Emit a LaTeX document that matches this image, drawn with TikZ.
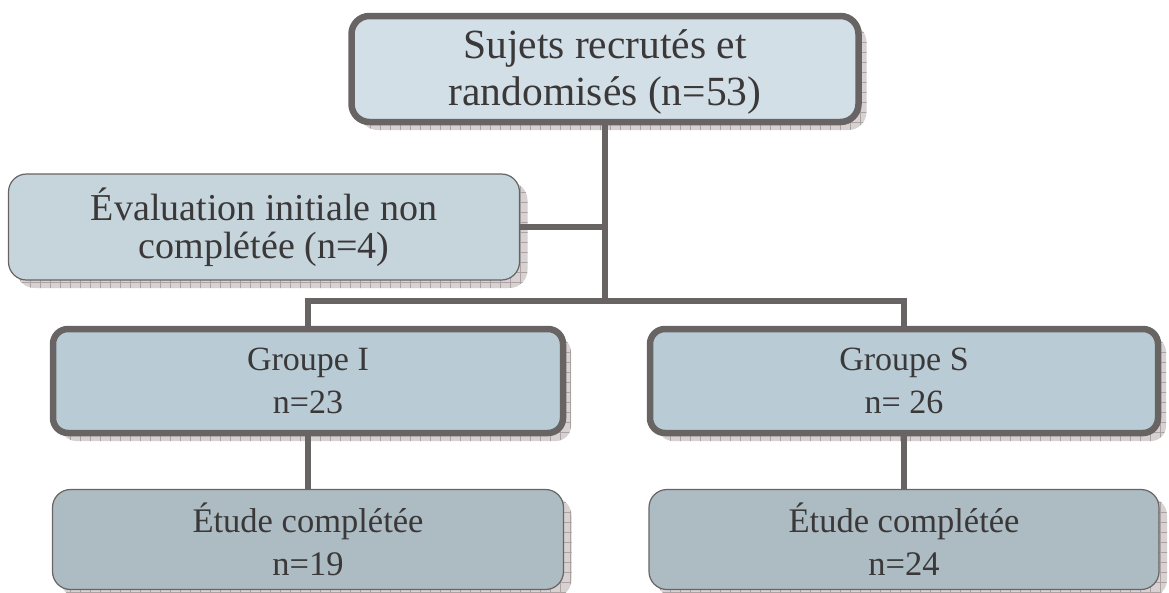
\documentclass[tikz,border=0pt]{standalone}
\usepackage{fontspec}
\setmainfont{Liberation Serif}
\usepackage{xcolor}
\usetikzlibrary{shadows,patterns}

\definecolor{edgegray}{HTML}{686464}
\definecolor{textgray}{HTML}{3A3838}
\definecolor{topfill}{HTML}{D3DFE6}
\definecolor{evalfill}{HTML}{C6D4DC}
\definecolor{groupfill}{HTML}{B9CBD4}
\definecolor{endfill}{HTML}{ADBBC2}
\definecolor{shadowfill}{HTML}{D8D1D1}
\definecolor{shadowline}{HTML}{ABA3A3}

\pgfdeclarepatternformonly{shadowgrid}{\pgfqpoint{-1pt}{-1pt}}{\pgfqpoint{11pt}{11pt}}{\pgfqpoint{10pt}{10pt}}{%
  \pgfsetlinewidth{0.6pt}%
  \pgfpathmoveto{\pgfqpoint{0pt}{0pt}}\pgfpathlineto{\pgfqpoint{10pt}{0pt}}%
  \pgfpathmoveto{\pgfqpoint{0pt}{0pt}}\pgfpathlineto{\pgfqpoint{0pt}{10pt}}%
  \pgfusepath{stroke}}

\tikzset{
  box/.style={rectangle, rounded corners=18pt, draw=edgegray, text=textgray,
    align=center, inner sep=0pt,
    general shadow={shadow xshift=8pt, shadow yshift=-8pt, fill=shadowfill,
      postaction={pattern=shadowgrid, pattern color=shadowline}}},
  heavybox/.style={box, line width=6.5pt},
  lightbox/.style={box, line width=1.2pt},
  link/.style={draw=edgegray, line width=6pt}
}

\begin{document}
\begin{tikzpicture}[x=1pt, y=-1pt]
  \useasboundingbox (0,0) rectangle (1169,592);
  \node[heavybox, fill=topfill, minimum width=507pt, minimum height=106pt,
    text depth=2pt, font=\fontsize{41.5}{47}\selectfont] (top) at (605,69)
    {Sujets recrutés et\\randomisés (n=53)};
  \node[lightbox, fill=evalfill, minimum width=511pt, minimum height=106pt,
    font=\fontsize{38}{38}\selectfont] (eval) at (264,227)
    {Évaluation initiale non\\complétée (n=4)};
  \node[heavybox, fill=groupfill, rounded corners=15pt, minimum width=510pt, minimum height=104pt,
    font=\fontsize{34}{43}\selectfont] (grpI) at (308,381)
    {Groupe I\\n=23};
  \node[heavybox, fill=groupfill, rounded corners=15pt, minimum width=508pt, minimum height=104pt,
    font=\fontsize{34}{43}\selectfont] (grpS) at (904,381)
    {Groupe S\\n= 26};
  \node[lightbox, fill=endfill, minimum width=511pt, minimum height=100pt,
    font=\fontsize{34.5}{43}\selectfont] (etuI) at (308,539.5)
    {Étude complétée\\n=19};
  \node[lightbox, fill=endfill, minimum width=510pt, minimum height=100pt,
    font=\fontsize{34.5}{43}\selectfont] (etuS) at (904,539.5)
    {Étude complétée\\n=24};
  \coordinate (fork) at (605,301);
  \draw[link] (top.south) -- (fork);
  \draw[link] (eval.east) -- (eval.east -| fork);
  \draw[link] (grpI.north) |- (fork) -| (grpS.north);
  \draw[link] (grpI.south) -- (etuI.north);
  \draw[link] (grpS.south) -- (etuS.north);
\end{tikzpicture}
\end{document}
